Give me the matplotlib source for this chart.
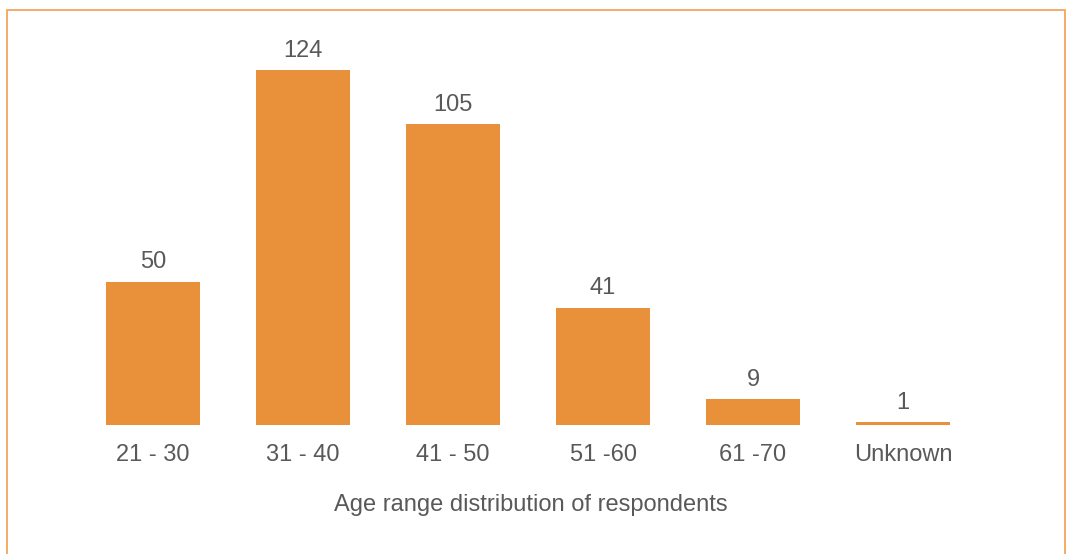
import matplotlib.pyplot as plt
from matplotlib.patches import Rectangle

plt.rcParams["font.family"] = ["Liberation Sans", "DejaVu Sans"]

age_ranges = ["21 - 30", "31 - 40", "41 - 50", "51 -60", "61 -70", "Unknown"]
respondents = [50, 124, 105, 41, 9, 1]

bar_color = "#E8903A"
text_color = "#595959"

fig = plt.figure(figsize=(10.68, 5.54), dpi=100)
ax = fig.add_axes([0, 0, 1, 1])

x = list(range(len(age_ranges)))
bars = ax.bar(x, respondents, width=0.63, color=bar_color)

ax.set_xlim(-1.02, 6.1)
ax.set_ylim(-45.06, 148.4)
ax.axis("off")

for rect, v, label in zip(bars, respondents, age_ranges):
    cx = rect.get_x() + rect.get_width() / 2
    ax.annotate(f"{v}", (cx, v), xytext=(0, 6), textcoords="offset points",
                ha="center", va="bottom", fontsize=17, color=text_color)
    ax.annotate(label, (cx, 0), xytext=(0, -14), textcoords="offset points",
                ha="center", va="top", fontsize=17, color=text_color)

fig.text(0.497, 1 - 505 / 554, "Age range distribution of respondents",
         ha="center", va="center", fontsize=17, color=text_color)

# thin orange frame around the panel (open at the bottom edge)
frame = Rectangle((6.5 / 1068, -0.05), (1065 - 6.5) / 1068, 1.05 - 9.5 / 554,
                  transform=fig.transFigure, fill=False,
                  edgecolor="#F2A65E", linewidth=1.3)
fig.patches.append(frame)

fig.savefig("out.png", dpi=100)
